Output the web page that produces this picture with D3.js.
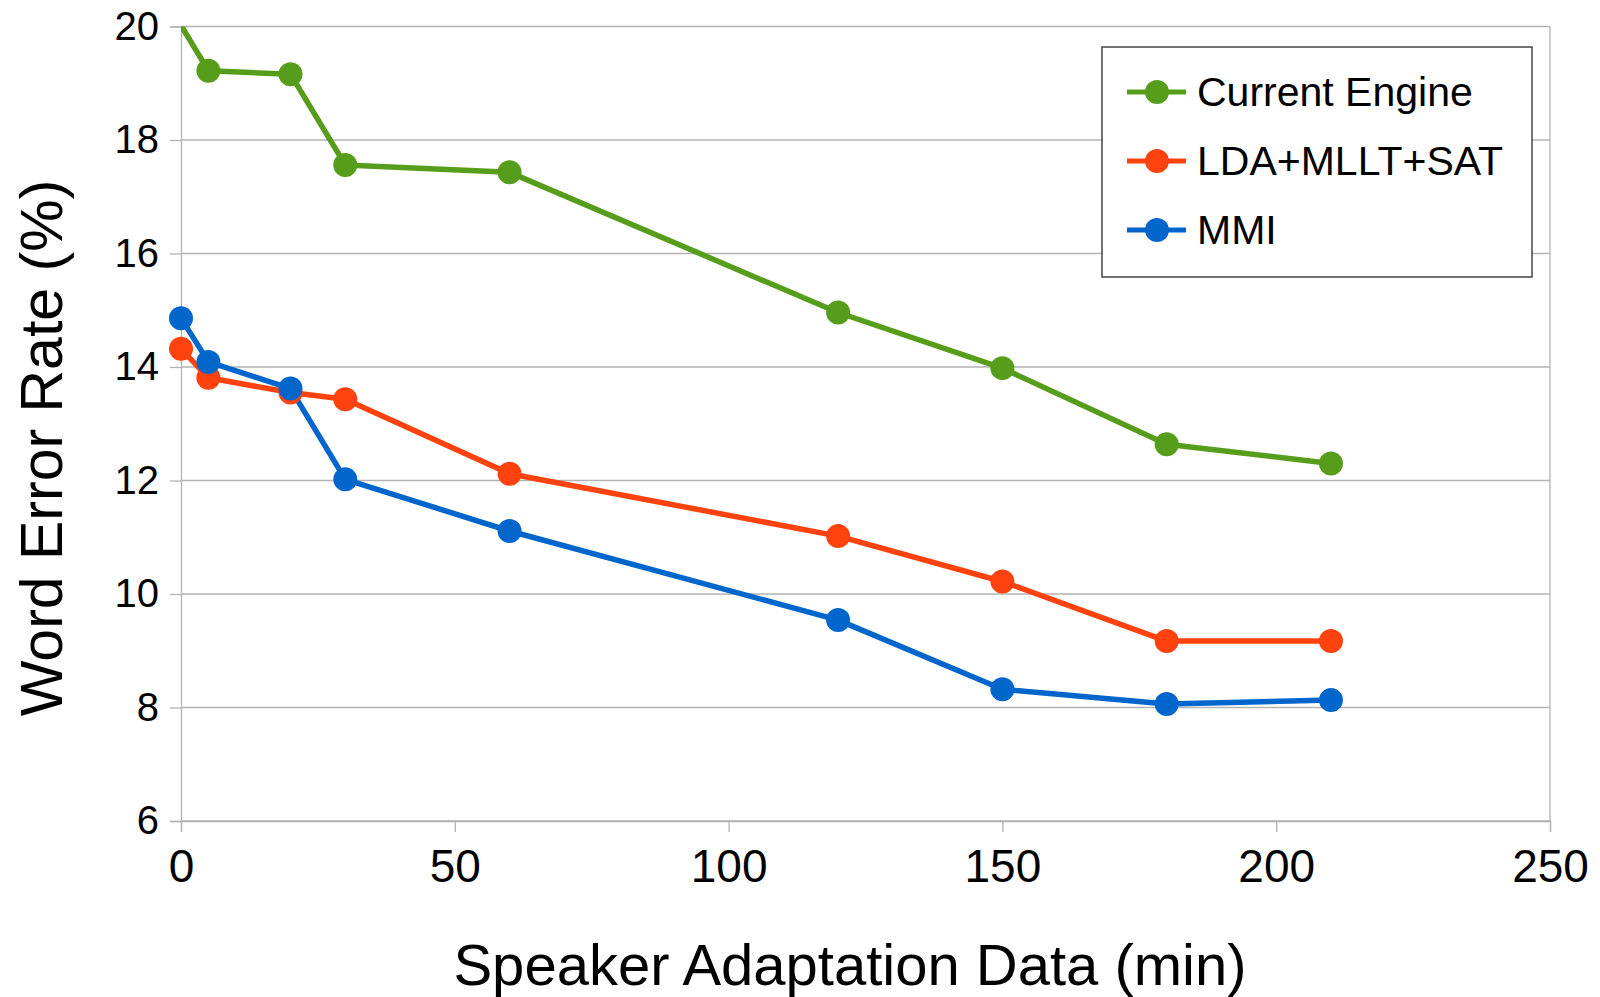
<meta charset="utf-8">
<script src="https://cdn.jsdelivr.net/npm/d3@7"></script>

<style>
  body {
    margin: 0;
    background-color: #ffffff;
  }
  text {
    font-family: "Liberation Sans", Arial, sans-serif;
    fill: #000;
  }
</style>

<div id="chart"></div>

<script>
// data
var minutes = [0, 5, 20, 30, 60, 120, 150, 180, 210];
var seriesNames = ["Current Engine", "LDA+MLLT+SAT", "MMI"];
var currentEngine = [20.02, 19.22, 19.16, 17.56, 17.43, 14.96, 13.98, 12.64, 12.30];
var ldaMlltSat = [14.32, 13.81, 13.55, 13.43, 12.12, 11.02, 10.22, 9.17, 9.17];
var mmi = [14.86, 14.09, 13.62, 12.02, 11.11, 9.54, 8.32, 8.06, 8.13];
var xTicks = [0, 50, 100, 150, 200, 250];
var yTicks = [6, 8, 10, 12, 14, 16, 18, 20];

var colors = ["#579d1c", "#ff420e", "#0066cc"];

var margin = {top: 26.5, right: 50, bottom: 176, left: 181},
    width = 1600 - margin.left - margin.right,
    height = 997 - margin.top - margin.bottom;

var svg = d3.select("#chart")
  .append("svg")
    .attr("width", 1600)
    .attr("height", 997)
  .append("g")
    .attr("transform", "translate(" + margin.left + "," + margin.top + ")");

var x = d3.scaleLinear().domain([0, 250]).range([0, width]);
var y = d3.scaleLinear().domain([6, 20]).range([height, 0]);

// grid lines
svg.append("g")
  .selectAll("line")
  .data(yTicks)
  .enter()
  .append("line")
    .attr("x1", 0)
    .attr("x2", width)
    .attr("y1", d => y(d))
    .attr("y2", d => y(d))
    .attr("stroke", "#b3b3b3")
    .attr("stroke-width", 1.3);

// right border
svg.append("line")
  .attr("x1", width).attr("x2", width)
  .attr("y1", 0).attr("y2", height)
  .attr("stroke", "#b3b3b3")
  .attr("stroke-width", 1.3);

// y axis
svg.append("g")
  .call(d3.axisLeft(y).tickValues(yTicks).tickSize(11).tickPadding(11).tickFormat(d3.format("d")))
  .call(g => g.select(".domain").attr("stroke", "#b3b3b3").attr("stroke-width", 1.3))
  .call(g => g.selectAll(".tick line").attr("stroke", "#b3b3b3").attr("stroke-width", 1.3))
  .selectAll("text")
    .attr("font-family", "Liberation Sans, Arial, sans-serif")
    .attr("font-size", 40)
    .style("fill", "#000");

// x axis
svg.append("g")
  .attr("transform", "translate(0," + height + ")")
  .call(d3.axisBottom(x).tickValues(xTicks).tickSize(11).tickPadding(17).tickFormat(d3.format("d")))
  .call(g => g.select(".domain").attr("stroke", "#b3b3b3").attr("stroke-width", 1.3))
  .call(g => g.selectAll(".tick line").attr("stroke", "#b3b3b3").attr("stroke-width", 1.3))
  .selectAll("text")
    .attr("font-family", "Liberation Sans, Arial, sans-serif")
    .attr("font-size", 46)
    .style("fill", "#000");

// clip to the plot area
svg.append("clipPath")
  .attr("id", "plotclip")
  .append("rect")
    .attr("x", 0).attr("y", 0)
    .attr("width", width).attr("height", height);

var seriesValues = [currentEngine, ldaMlltSat, mmi];
var series = seriesValues.map(function(vals, i) {
  return {
    name: seriesNames[i],
    color: colors[i],
    points: minutes.map(function(m, j) { return {m: m, v: vals[j]}; })
  };
});

var line = d3.line()
  .x(d => x(d.m))
  .y(d => y(d.v));

var plot = svg.append("g").attr("clip-path", "url(#plotclip)");

series.forEach(function(s) {
  plot.append("path")
    .datum(s.points)
    .attr("fill", "none")
    .attr("stroke", s.color)
    .attr("stroke-width", 5.5)
    .attr("stroke-linejoin", "round")
    .attr("d", line);
});

series.forEach(function(s) {
  svg.append("g")
    .selectAll("circle")
    .data(s.points.filter(d => d.v <= 20))
    .enter()
    .append("circle")
      .attr("cx", d => x(d.m))
      .attr("cy", d => y(d.v))
      .attr("r", 12)
      .attr("fill", s.color);
});

// axis titles
svg.append("text")
  .attr("x", 850 - margin.left)
  .attr("y", 985 - margin.top)
  .attr("text-anchor", "middle")
  .attr("font-size", 58)
  .text("Speaker Adaptation Data (min)");

svg.append("text")
  .attr("transform", "translate(" + (62 - margin.left) + "," + (448 - margin.top) + ") rotate(-90)")
  .attr("text-anchor", "middle")
  .attr("font-size", 59)
  .text("Word Error Rate (%)");

// legend
var legend = svg.append("g")
  .attr("transform", "translate(" + (1102 - margin.left) + "," + (47 - margin.top) + ")");

legend.append("rect")
  .attr("width", 430)
  .attr("height", 230)
  .attr("fill", "#fff")
  .attr("stroke", "#444")
  .attr("stroke-width", 1.5);

series.forEach(function(s, i) {
  var row = legend.append("g")
    .attr("transform", "translate(0," + (45 + i * 69) + ")");
  row.append("line")
    .attr("x1", 25).attr("x2", 84)
    .attr("y1", 0).attr("y2", 0)
    .attr("stroke", s.color)
    .attr("stroke-width", 5);
  row.append("circle")
    .attr("cx", 55).attr("cy", 0)
    .attr("r", 12)
    .attr("fill", s.color);
  row.append("text")
    .attr("x", 95)
    .attr("y", 0)
    .attr("dy", "0.35em")
    .attr("font-size", 41)
    .text(s.name);
});
</script>
